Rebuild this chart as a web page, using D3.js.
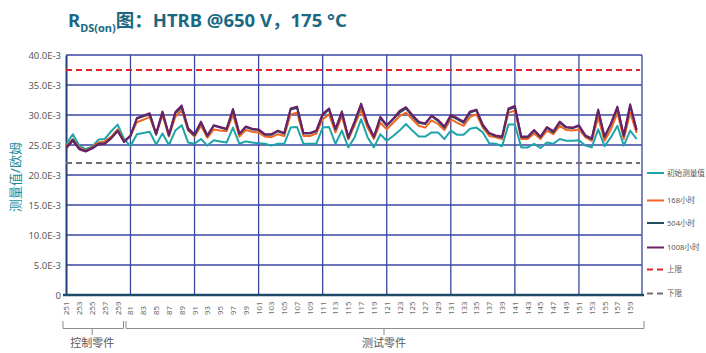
<!DOCTYPE html>
<html>
<head>
<meta charset="utf-8">
<script src="https://cdn.jsdelivr.net/npm/d3@7"></script>
<style>
  body { margin: 0; background: #fff; }
  svg { display: block; font-family: "Noto Sans", "Noto Sans CJK SC", sans-serif; }
</style>
</head>
<body>
<div id="chart"></div>
<script>
// Dades del gràfic (valors en E-3 ohm)
const controlParts = ['251','252','253','254','255','256','257','258','259','260'];
const testParts = ['81','82','83','84','85','86','87','88','89','90',
  '91','92','93','94','95','96','97','98','99','100',
  '101','102','103','104','105','106','107','108','109','110',
  '111','112','113','114','115','116','117','118','119','120',
  '121','122','123','124','125','126','127','128','129','130',
  '131','132','133','134','135','136','137','138','139','140',
  '141','142','143','144','145','146','147','148','149','150',
  '151','152','153','154','155','156','157','158','159','160'];
const groupNames = ['控制零件', '测试零件'];

const initialValues = [25.2,26.8,24.9,24.3,24.7,25.9,26.0,27.3,28.4,26.0,
  24.8,26.8,27.0,27.2,25.1,26.9,25.0,27.4,28.3,25.4,
  25.2,26.0,24.9,25.8,25.6,25.4,27.9,25.2,25.6,25.4,
  25.3,25.2,24.9,25.2,25.2,27.9,28.0,25.2,25.2,25.2,
  27.9,28.0,25.2,27.4,24.6,26.3,29.3,26.3,24.6,26.8,
  25.7,26.5,27.4,28.5,27.4,26.4,26.4,27.1,27.1,26.0,
  27.4,26.7,26.7,27.7,27.9,27.1,25.3,25.2,24.8,28.4,
  28.4,24.6,24.6,25.2,24.5,25.4,25.2,26.0,25.7,25.7,
  25.8,24.9,24.6,27.6,24.8,26.3,28.2,24.9,27.4,26.0];
const h168Values = [24.8,26.0,24.6,24.1,24.6,25.4,25.6,26.4,27.6,25.7,
  26.5,28.8,29.2,29.7,26.8,30.0,26.4,29.7,30.8,27.4,
  26.4,28.2,26.2,27.6,27.4,27.3,30.0,26.4,27.5,27.2,
  27.1,26.4,26.3,26.8,26.5,30.1,30.4,26.5,26.5,26.9,
  29.3,30.1,27.1,29.8,25.9,28.3,30.9,27.9,26.0,28.7,
  27.6,28.7,29.8,30.4,29.3,28.2,27.9,29.1,28.5,27.5,
  29.3,28.7,28.2,29.7,30.1,27.9,26.5,26.3,26.0,30.4,
  30.7,26.0,26.0,26.9,26.0,27.4,26.8,28.2,27.5,27.4,
  27.6,26.3,25.7,29.6,25.7,27.6,30.4,26.0,30.4,27.0];
const h504Values = [24.6,25.9,24.4,24.0,24.5,25.2,25.3,26.2,27.4,25.6,
  26.6,29.4,29.8,30.1,26.7,30.4,26.6,30.3,31.3,27.6,
  26.6,28.7,26.5,28.2,27.9,27.6,30.8,26.8,28.0,27.6,
  27.5,26.7,26.7,27.3,26.9,30.9,31.2,26.9,26.9,27.3,
  30.0,30.9,27.6,30.4,26.2,28.8,31.7,28.5,26.3,29.5,
  28.2,29.3,30.4,31.1,29.8,28.7,28.5,29.8,29.0,27.9,
  29.8,29.3,28.7,30.4,30.8,28.2,26.9,26.5,26.3,30.9,
  31.3,26.3,26.3,27.4,26.3,27.9,27.1,28.7,27.9,27.8,
  28.2,26.5,26.0,30.7,26.3,28.5,31.2,26.5,31.5,27.6];
const h1008Values = [24.5,25.7,24.3,23.9,24.4,25.1,25.2,26.1,27.3,25.5,
  26.5,29.5,29.9,30.3,26.9,30.6,26.7,30.5,31.6,27.8,
  26.8,28.9,26.6,28.3,28.0,27.7,31.0,26.9,28.1,27.7,
  27.6,26.8,26.8,27.4,27.0,31.1,31.4,27.0,27.0,27.4,
  30.2,31.1,27.7,30.6,26.3,29.0,31.9,28.6,26.4,29.7,
  28.3,29.4,30.7,31.3,30.0,28.9,28.6,29.9,29.2,28.1,
  30.0,29.5,28.9,30.6,30.9,28.4,27.0,26.6,26.4,31.1,
  31.5,26.4,26.4,27.5,26.4,28.0,27.3,28.9,28.0,27.9,
  28.3,26.6,26.1,30.9,26.4,28.6,31.4,26.6,31.8,27.4];
const upperLimit = 37.5;
const lowerLimit = 22.0;
const yTicks = [0, 5, 10, 15, 20, 25, 30, 35, 40];
const seriesNames = ['初始测量值', '168小时', '504小时', '1008小时'];
const limitNames = ['上限', '下限'];

const seriesColors = ['#1fa4a9', '#f26522', '#1e4f5e', '#6e1f68'];
const limitColors = ['#e0242c', '#6f6f6f'];

const W = 706, H = 353;
const plot = { left: 66, right: 642, top: 55, bottom: 295 };
const categories = controlParts.concat(testParts);

const svg = d3.select('#chart').append('svg')
    .attr('width', W)
    .attr('height', H);

const x = d3.scalePoint()
    .domain(categories)
    .range([plot.left + 0.4, 636.6]);

const y = d3.scaleLinear()
    .domain([0, 40])
    .range([plot.bottom, plot.top]);

// Títol
const title = svg.append('text')
    .attr('x', 68)
    .attr('y', 27)
    .attr('fill', '#1b6882')
    .style('font-weight', 'bold')
    .style('font-size', '18.5px');
title.append('tspan').text('R');
title.append('tspan').attr('dy', 5).style('font-size', '11px').text('DS(on)');
title.append('tspan').attr('dy', -5).text('图：HTRB @650 V，175 °C');

// Línies de graella horitzontals
svg.append('g')
    .selectAll('line')
    .data(yTicks.filter(d => d > 0))
    .enter().append('line')
    .attr('x1', plot.left)
    .attr('x2', plot.right)
    .attr('y1', d => y(d))
    .attr('y2', d => y(d))
    .attr('stroke', '#3a46a0')
    .attr('stroke-width', 1.3);

// Línies de graella verticals cada 10 peces
const vGrid = categories.filter((d, i) => i > 0 && i % 10 === 0);
svg.append('g')
    .selectAll('line')
    .data(vGrid)
    .enter().append('line')
    .attr('x1', d => x(d))
    .attr('x2', d => x(d))
    .attr('y1', plot.top)
    .attr('y2', plot.bottom)
    .attr('stroke', '#3a46a0')
    .attr('stroke-width', 1.3);

svg.append('line')
    .attr('x1', plot.right).attr('x2', plot.right)
    .attr('y1', plot.top).attr('y2', plot.bottom)
    .attr('stroke', '#3a46a0')
    .attr('stroke-width', 1.3);

// Eix Y
const yAxis = svg.append('g')
    .attr('transform', `translate(${plot.left},0)`)
    .call(d3.axisLeft(y).tickValues(yTicks).tickSize(0).tickPadding(5)
        .tickFormat(d => d === 0 ? '0' : d.toFixed(1) + 'E-3'));
yAxis.select('.domain').attr('stroke', '#1f3f78').attr('stroke-width', 2);
yAxis.selectAll('text')
    .attr('fill', '#595959')
    .style('font-size', '9.5px')
    .style('font-family', '"Noto Sans", sans-serif');

svg.append('text')
    .attr('transform', `translate(20,${(plot.top + plot.bottom) / 2 + 2}) rotate(-90)`)
    .attr('text-anchor', 'middle')
    .attr('fill', '#1a8fa0')
    .style('font-size', '13px')
    .text('测量值/欧姆');

// Línies de límit
const limits = [upperLimit, lowerLimit];
svg.append('g')
    .selectAll('line')
    .data(limits)
    .enter().append('line')
    .attr('x1', plot.left)
    .attr('x2', 640)
    .attr('y1', d => y(d))
    .attr('y2', d => y(d))
    .attr('stroke', (d, i) => limitColors[i])
    .attr('stroke-width', 2)
    .attr('stroke-dasharray', '6,4');

// Sèries
const allSeries = [initialValues, h168Values, h504Values, h1008Values];
const line = d3.line()
    .x((d, i) => x(categories[i]))
    .y(d => y(d));

svg.append('g')
    .selectAll('path')
    .data(allSeries)
    .enter().append('path')
    .attr('d', line)
    .attr('fill', 'none')
    .attr('stroke', (d, i) => seriesColors[i])
    .attr('stroke-width', 2)
    .attr('stroke-linejoin', 'round');

// Eix X
const xAxis = svg.append('g')
    .attr('transform', `translate(0,${plot.bottom})`)
    .call(d3.axisBottom(x)
        .tickValues(categories.filter((d, i) => i % 2 === 0))
        .tickSize(0));
xAxis.select('.domain')
    .attr('d', `M${plot.left - 3},0H${plot.right + 2}`)
    .attr('stroke', '#1f4a6a')
    .attr('stroke-width', 2.5);
xAxis.selectAll('text')
    .attr('transform', 'rotate(-90)')
    .attr('x', -20)
    .attr('y', 0)
    .attr('dy', '0.32em')
    .attr('text-anchor', 'start')
    .attr('fill', '#6a6a6a')
    .style('font-size', '7.8px')
    .style('font-family', '"Noto Sans", sans-serif');

// Claudàtors de grups
const groups = [
    { name: groupNames[0], x0: 63, x1: 123.5 },
    { name: groupNames[1], x0: 126, x1: 644 }
];
const gb = svg.append('g')
    .selectAll('g')
    .data(groups)
    .enter().append('g');
gb.append('path')
    .attr('d', d => `M${d.x0},321V328.5H${d.x1}V321M${(d.x0 + d.x1) / 2 - 1},328.5V335`)
    .attr('fill', 'none')
    .attr('stroke', '#8c8c8c')
    .attr('stroke-width', 1);
gb.append('text')
    .attr('x', d => (d.x0 + d.x1) / 2 - 1)
    .attr('y', 347)
    .attr('text-anchor', 'middle')
    .attr('fill', '#595959')
    .style('font-size', '11px')
    .text(d => d.name);

// Llegenda
const legendItems = seriesNames.map((n, i) => ({ name: n, color: seriesColors[i], dash: null }))
    .concat(limitNames.map((n, i) => ({ name: n, color: limitColors[i], dash: '6,4' })));
const legendY = [173, 200.5, 223, 247.5, 269.5, 293.5];
const lg = svg.append('g')
    .selectAll('g')
    .data(legendItems)
    .enter().append('g')
    .attr('transform', (d, i) => `translate(647,${legendY[i]})`);
lg.append('line')
    .attr('x1', 0).attr('x2', 17)
    .attr('stroke', d => d.color)
    .attr('stroke-width', 2)
    .attr('stroke-dasharray', d => d.dash);
lg.append('text')
    .attr('x', 20)
    .attr('dy', '0.35em')
    .attr('fill', '#595959')
    .style('font-size', '7.6px')
    .text(d => d.name);
</script>
</body>
</html>
